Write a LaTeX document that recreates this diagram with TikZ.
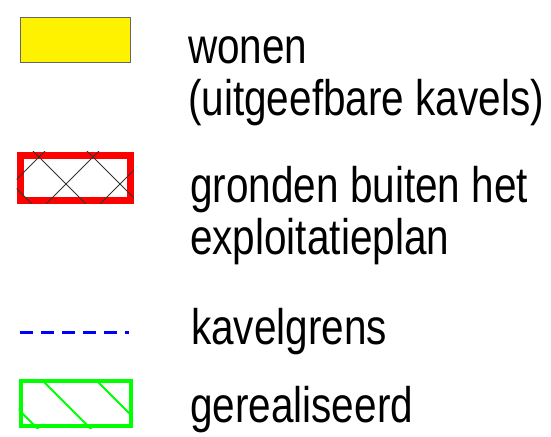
\documentclass[tikz,border=0pt]{standalone}
\usepackage{fontspec}
\newfontfamily\legendfont[FakeStretch=0.81]{Liberation Sans}
\usetikzlibrary{positioning}

\begin{document}
\begin{tikzpicture}[x=1pt,y=-1pt,
    legendtext/.style={anchor=base west,inner sep=0pt,align=left,font=\legendfont\fontsize{50}{52}\selectfont},
    swatch/.style={rectangle,inner sep=0pt,minimum width=110pt,minimum height=45pt},
    hatchline/.style={black!80,line width=0.8pt}]
    \useasboundingbox (0,0) rectangle (551,436);
    % wonen
    \node[swatch,fill=yellow,draw=black!60,line width=1pt] (wonen) at (75,40.5) {};
    \node[legendtext] (wonentxt) at (188,115) {wonen\\(uitgeefbare kavels)};
    % gronden buiten het exploitatieplan
    \node[swatch,draw=red,line width=7pt] (buiten) at (75,177.5) {};
    \begin{scope}
        \clip (buiten.south west) rectangle (buiten.north east);
        \foreach \c in {196,250,304}
            \draw[hatchline] (\c-210,210) -- (\c-145,145);
        \foreach \c in {-172,-118,-64}
            \draw[hatchline] (\c+145,145) -- (\c+210,210);
    \end{scope}
    \node[legendtext] (buitentxt) at (190,254) {gronden buiten het\\exploitatieplan};
    % kavelgrens
    \coordinate (grensa) at (20,332);
    \coordinate (grensb) at (129,332);
    \draw[blue,line width=3pt,dash pattern=on 13pt off 8pt] (grensa) -- (grensb);
    \node[legendtext] (grenstxt) at (191,344) {kavelgrens};
    % gerealiseerd
    \node[swatch,draw=green,line width=4pt] (gereed) at (75.5,403.5) {};
    \begin{scope}
        \clip (gereed.south west) rectangle (gereed.north east);
        \foreach \c in {-391,-338,-284}
            \draw[green,line width=2pt] (\c+370,370) -- (\c+440,440);
    \end{scope}
    \node[legendtext] (gereedtxt) at (190,422) {gerealiseerd};
\end{tikzpicture}
\end{document}
